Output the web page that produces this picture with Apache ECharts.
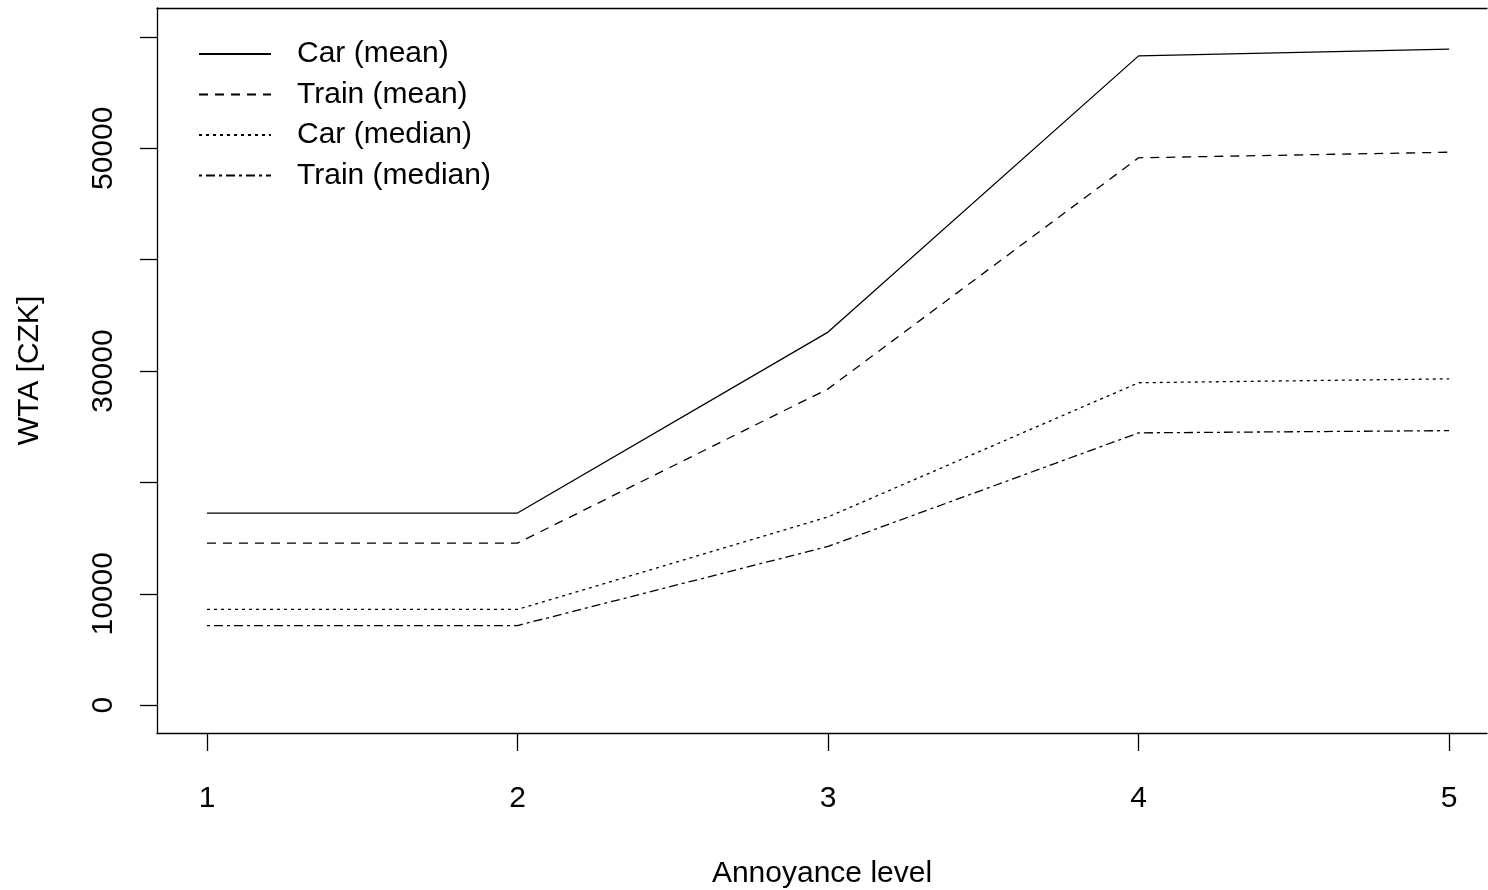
<!DOCTYPE html>
<html>
<head>
<meta charset="utf-8">
<title>WTA by annoyance level</title>
<script src="https://cdn.jsdelivr.net/npm/echarts@6/dist/echarts.min.js"></script>
<style>
  html, body { margin: 0; padding: 0; background: #fff; }
  #chartWta { width: 1488px; height: 890px; }
</style>
</head>
<body>
<div id="chartWta"></div>
<script>
// annoyance levels on the x axis
var levels = [1, 2, 3, 4, 5];

// WTA values [CZK]
var carMean = [17250, 17250, 33500, 58300, 58900];
var trainMean = [14550, 14550, 28400, 49150, 49650];
var carMedian = [8600, 8600, 16900, 28950, 29300];
var trainMedian = [7150, 7150, 14250, 24450, 24650];

var seriesNames = ["Car (mean)", "Train (mean)", "Car (median)", "Train (median)"];

// ticks and labels (R skips the labels that would overlap)
var xTicks = [1, 2, 3, 4, 5];
var yTicks = [0, 10000, 20000, 30000, 40000, 50000, 60000];
var yLabels = [0, 10000, 30000, 50000];

var FONT = "'Liberation Sans', Arial, sans-serif";
var frameLine = { color: "#000", width: 1.3 };

function pairs(values) {
  return levels.map(function (x, i) {
    return [x, values[i]];
  });
}

function lineSeries(name, values, dash) {
  return {
    name: name,
    type: "line",
    data: pairs(values),
    symbol: "none",
    silent: true,
    animation: false,
    itemStyle: { color: "#000" },
    lineStyle: { color: "#000", width: 1.3, type: dash },
  };
}

function InitWtaChart() {
  var myChart = echarts.init(document.getElementById("chartWta"));
  var option = {
    backgroundColor: "#fff",
    animation: false,
    textStyle: { fontFamily: FONT },
    // the plot box runs past the right edge, so only three sides are drawn
    grid: {
      left: 157,
      top: 8,
      right: 1,
      height: 725,
      outerBoundsMode: "none",
      containLabel: false,
    },
    legend: {
      orient: "vertical",
      left: 193,
      top: 34,
      itemWidth: 72,
      itemHeight: 30,
      itemGap: 10.5,
      selectedMode: false,
      data: seriesNames,
      itemStyle: { opacity: 0 },
      textStyle: {
        fontFamily: FONT,
        fontSize: 30,
        color: "#000",
        padding: [0, 0, 0, 21],
      },
    },
    xAxis: [
      {
        type: "value",
        min: 0.839,
        max: 5.122,
        name: "Annoyance level",
        nameLocation: "middle",
        nameGap: 126,
        nameTextStyle: { fontFamily: FONT, fontSize: 30, color: "#000" },
        axisLine: { show: true, onZero: false, lineStyle: frameLine },
        splitLine: { show: false },
        axisTick: {
          show: true,
          inside: false,
          length: 18,
          customValues: xTicks,
          lineStyle: frameLine,
        },
        axisLabel: {
          customValues: xTicks,
          margin: 51,
          fontFamily: FONT,
          fontSize: 30,
          color: "#000",
        },
      },
      {
        // top side of the box
        type: "value",
        position: "top",
        min: 0.839,
        max: 5.122,
        axisLine: { show: true, onZero: false, lineStyle: frameLine },
        axisTick: { show: false },
        axisLabel: { show: false },
        splitLine: { show: false },
      },
    ],
    yAxis: {
      type: "value",
      min: -2500,
      max: 62600,
      name: "WTA [CZK]",
      nameLocation: "middle",
      nameRotate: 90,
      nameGap: 112,
      nameTextStyle: { fontFamily: FONT, fontSize: 30, color: "#000" },
      axisLine: { show: true, onZero: false, lineStyle: frameLine },
      splitLine: { show: false },
      axisTick: {
        show: true,
        inside: false,
        length: 17,
        customValues: yTicks,
        lineStyle: frameLine,
      },
      axisLabel: {
        customValues: yLabels,
        rotate: 90,
        margin: 38,
        fontFamily: FONT,
        fontSize: 30,
        color: "#000",
        formatter: function (v) {
          return String(v);
        },
      },
    },
    series: [
      lineSeries(seriesNames[0], carMean, "solid"),
      lineSeries(seriesNames[1], trainMean, [9, 7]),
      lineSeries(seriesNames[2], carMedian, [3, 4]),
      lineSeries(seriesNames[3], trainMedian, [3, 4, 9, 4]),
    ],
  };
  myChart.setOption(option);
}

InitWtaChart();
</script>
</body>
</html>
